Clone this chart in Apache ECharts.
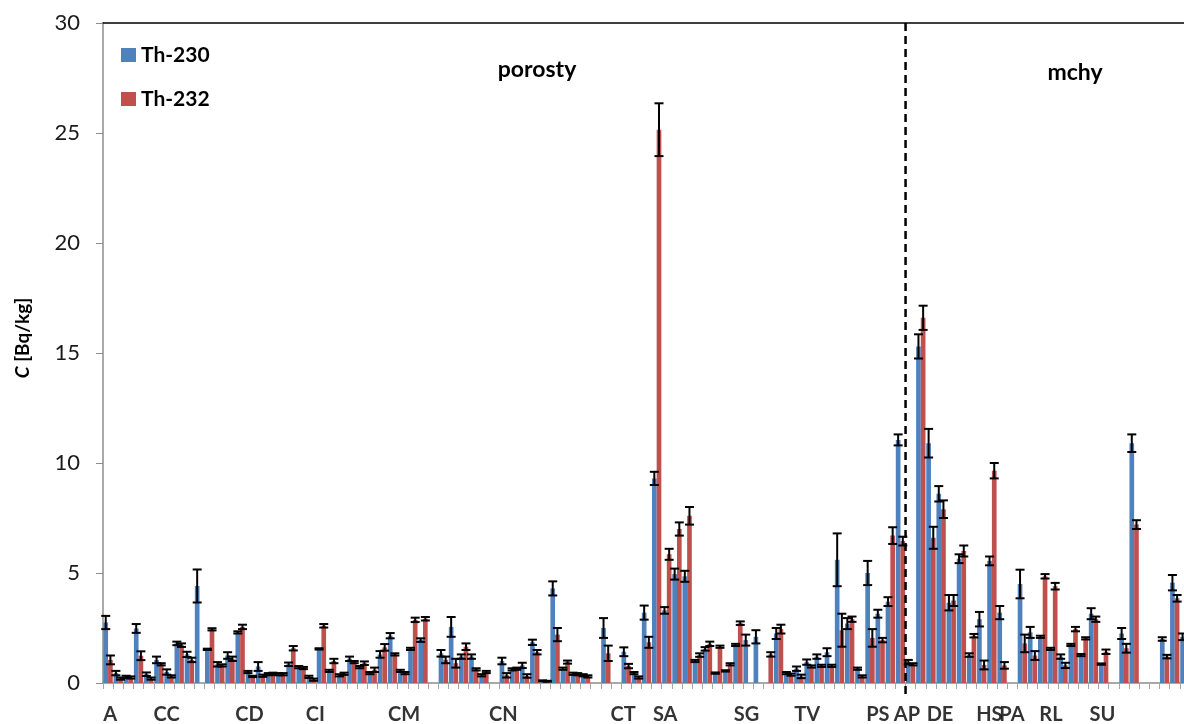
<!DOCTYPE html>
<html>
<head>
<meta charset="utf-8">
<script src="https://cdn.jsdelivr.net/npm/echarts@6/dist/echarts.min.js"></script>
<style>
  html, body { margin: 0; padding: 0; background: #fff; overflow: hidden; }
  #chart { width: 1184px; height: 724px; }
</style>
</head>
<body>
<div id="chart"></div>
<script>
// Sample positions along the axis (one per measured sample)
const samples = Array.from({ length: 107 }, (_, i) => String(i + 1));

// Activity concentrations, Bq/kg
const th230 = [2.75,0.45,0.28,2.48,0.4,1.05,0.5,1.8,1.3,4.41,
  1.53,0.85,1.25,2.3,0.5,0.75,0.4,0.4,0.85,0.72,
  0.28,1.55,0.55,0.35,1.1,0.72,0.45,1.3,2.15,0.55,
  1.55,1.95,null,1.35,2.55,1.2,1.2,0.35,null,1.0,
  0.62,0.8,1.85,0.1,4.3,0.65,0.42,0.35,null,2.5,
  null,1.42,0.45,3.2,9.3,3.3,4.95,4.85,1.0,1.55,
  0.45,0.55,1.73,1.95,2.1,null,2.25,0.45,0.65,0.95,
  1.2,1.4,5.6,2.7,0.65,5.0,3.15,3.7,11.05,0.95,
  15.3,10.9,8.6,3.65,5.65,1.27,2.9,5.55,3.2,null,
  4.5,2.3,2.1,1.55,1.2,1.73,1.27,3.15,0.86,null,
  2.25,10.9,null,null,2.0,4.56,2.1];

const th232 = [1.05,0.2,0.25,1.24,0.2,0.85,0.3,1.72,1.05,null,
  2.44,0.8,1.1,2.55,0.3,0.33,0.42,0.4,1.58,0.68,
  0.15,2.6,1.0,0.42,0.95,0.9,0.6,1.62,1.3,0.45,
  2.87,2.92,null,1.05,0.9,1.65,0.62,0.5,null,0.35,
  0.65,0.32,1.4,0.08,2.2,0.95,0.4,0.3,null,1.35,
  null,0.77,0.25,1.85,25.15,5.85,7.0,7.6,1.27,1.78,
  1.65,0.85,2.72,null,null,1.3,2.45,0.38,0.3,0.75,
  0.78,0.78,2.4,2.9,0.3,2.05,1.95,6.7,6.45,0.85,
  16.6,6.6,7.9,3.75,6.0,2.15,0.82,9.65,0.8,null,
  1.8,1.25,4.85,4.4,0.8,2.45,2.03,2.9,1.42,null,
  1.58,7.2,null,null,1.2,3.85,null];

// Measurement uncertainties (±)
const err230 = [0.3,0.1,0.05,0.2,0.08,0.15,0.12,0.08,0.12,0.75,
  0.03,0.1,0.15,0.05,0.05,0.2,0.05,0.05,0.08,0.05,
  0.05,0.03,0.05,0.05,0.1,0.05,0.05,0.15,0.12,0.05,
  0.05,0.08,null,0.15,0.45,0.1,0.1,0.05,null,0.15,
  0.05,0.12,0.12,0.02,0.32,0.05,0.05,0.05,null,0.45,
  null,0.2,0.05,0.32,0.3,0.15,0.25,0.25,0.05,0.08,
  0.03,0.03,0.05,0.25,0.3,null,0.25,0.05,0.1,0.12,
  0.1,0.18,1.2,0.25,0.05,0.55,0.18,0.2,0.25,0.1,
  0.55,0.65,0.35,0.35,0.2,0.08,0.33,0.2,0.3,null,
  0.65,0.25,0.05,0.05,0.1,0.05,0.05,0.25,0.03,null,
  0.25,0.4,null,null,0.08,0.35,0.15];

const err232 = [0.2,0.05,0.05,0.2,0.05,0.05,0.05,0.08,0.1,null,
  0.05,0.05,0.1,0.1,0.03,0.05,0.05,0.05,0.1,0.05,
  0.05,0.08,0.1,0.05,0.05,0.08,0.1,0.15,0.05,0.05,
  0.1,0.08,null,0.15,0.2,0.15,0.05,0.05,null,0.1,
  0.05,0.08,0.1,0.02,0.3,0.07,0.05,0.05,null,0.35,
  null,0.1,0.05,0.25,1.2,0.25,0.3,0.4,0.08,0.1,
  0.05,0.05,0.08,null,null,0.1,0.2,0.05,0.08,0.05,
  0.05,0.05,0.75,0.12,0.05,0.4,0.1,0.38,0.2,0.05,
  0.55,0.5,0.4,0.25,0.25,0.08,0.2,0.35,0.15,null,
  0.4,0.2,0.1,0.15,0.12,0.1,0.05,0.12,0.1,null,
  0.2,0.2,null,null,0.08,0.15,null];

// Site groups and where their labels sit (in sample units)
const groupNames   = ['A','CC','CD','CI','CM','CN','CT','SA','SG','TV','PS','AP','DE','HS','PA','RL','SU'];
const groupCenters = [0.72,6.27,14.42,20.91,29.64,39.4,51.2,55.34,63.34,69.33,76.28,79.14,82.39,87.25,89.47,93.31,98.39];

// Boundary between lichen ("porosty") and moss ("mchy") samples
const splitAt = 79;

const yTicks = { min: 0, max: 30, interval: 5 };

const FONT = 'Lato, "Open Sans", sans-serif';
const BLUE = '#4F81BD';
const RED = '#C0504D';
const CAT_GAP = 0.08;

function errorBars(side) {
  return function (params, api) {
    const x = api.value(0), v = api.value(1), e = api.value(2);
    if (isNaN(v) || isNaN(e)) return;
    const band = api.size([1, 0])[0];
    const bw = band * (1 - CAT_GAP) / 2;
    const cx = api.coord([x, 0])[0] + side * bw / 2;
    const yTop = api.coord([x, v + e])[1];
    const yBot = api.coord([x, v - e])[1];
    const hw = 4.5;
    const st = { stroke: '#000', lineWidth: 2 };
    return {
      type: 'group',
      children: [
        { type: 'line', shape: { x1: cx, y1: yTop, x2: cx, y2: yBot }, style: st },
        { type: 'line', shape: { x1: cx - hw, y1: yTop, x2: cx + hw, y2: yTop }, style: st },
        { type: 'line', shape: { x1: cx - hw, y1: yBot, x2: cx + hw, y2: yBot }, style: st }
      ]
    };
  };
}

const errData230 = th230.map((v, i) => [i, v, err230[i]]).filter(d => d[1] != null && d[2] != null);
const errData232 = th232.map((v, i) => [i, v, err232[i]]).filter(d => d[1] != null && d[2] != null);

const chart = echarts.init(document.getElementById('chart'), null, { renderer: 'canvas' });

const titleStyle = { fontFamily: FONT, fontWeight: 'bold', fontSize: 19, fill: '#000' };

chart.setOption({
  animation: false,
  backgroundColor: '#fff',
  textStyle: { fontFamily: FONT },
  // the plot runs on past the right edge of the canvas
  grid: {
    left: 103, top: 23, height: 660, width: 1087,
    containLabel: false, outerBoundsMode: 'none'
  },
  legend: {
    data: ['Th-230', 'Th-232'],
    orient: 'vertical',
    left: 116,
    top: 38,
    itemWidth: 15,
    itemHeight: 14,
    itemGap: 20,
    icon: 'rect',
    selectedMode: false,
    textStyle: { fontFamily: FONT, fontWeight: 'bold', fontSize: 21, color: '#000', lineHeight: 24 }
  },
  xAxis: [
    {
      type: 'category',
      data: samples,
      boundaryGap: true,
      axisLine: { lineStyle: { color: '#8c8c8c', width: 1.5 } },
      axisTick: { show: true, interval: 0, length: 6, lineStyle: { color: '#a6a6a6', width: 1 } },
      axisLabel: { show: false }
    },
    {
      type: 'value',
      position: 'top',
      min: 0,
      max: samples.length,
      axisLine: { show: true, onZero: false, lineStyle: { color: '#000', width: 1.5 } },
      axisTick: { show: false },
      axisLabel: { show: false },
      splitLine: { show: false }
    }
  ],
  yAxis: {
    type: 'value',
    min: yTicks.min,
    max: yTicks.max,
    interval: yTicks.interval,
    axisLine: { show: true, lineStyle: { color: '#8c8c8c', width: 1.5 } },
    axisTick: { show: true, length: 7, lineStyle: { color: '#8c8c8c' } },
    axisLabel: { fontFamily: FONT, fontSize: 22, color: '#1a1a1a', margin: 23 },
    splitLine: { show: false }
  },
  series: [
    {
      name: 'Th-230', type: 'bar', data: th230,
      itemStyle: { color: BLUE },
      barGap: '0%', barCategoryGap: (CAT_GAP * 100) + '%'
    },
    {
      name: 'Th-232', type: 'bar', data: th232,
      itemStyle: { color: RED },
      barGap: '0%', barCategoryGap: (CAT_GAP * 100) + '%'
    },
    {
      name: 'err230', type: 'custom', renderItem: errorBars(-1),
      data: errData230, encode: { x: 0, y: 1 }, z: 5, clip: false
    },
    {
      name: 'err232', type: 'custom', renderItem: errorBars(1),
      data: errData232, encode: { x: 0, y: 1 }, z: 5, clip: false
    },
    {
      name: 'groups', type: 'scatter', xAxisIndex: 1, yAxisIndex: 0,
      symbolSize: 0, clip: false, silent: true,
      data: groupCenters.map((c, i) => ({ value: [c, 0], name: groupNames[i] })),
      label: {
        show: true, position: 'bottom', distance: 22,
        formatter: p => p.name,
        fontFamily: FONT, fontWeight: 'bold', fontSize: 20, color: '#000'
      }
    }
  ],
  graphic: [
    {
      type: 'text', x: 537, y: 70,
      style: { text: 'porosty', font: 'bold 23px ' + FONT, fill: '#000', align: 'center', verticalAlign: 'middle' }
    },
    {
      type: 'text', x: 1075, y: 73,
      style: { text: 'mchy', font: 'bold 23px ' + FONT, fill: '#000', align: 'center', verticalAlign: 'middle' }
    },
    {
      type: 'text', x: 23, y: 338, rotation: Math.PI / 2,
      style: {
        text: '{i|C}{b| [Bq/kg]}',
        align: 'center', verticalAlign: 'middle',
        rich: {
          i: Object.assign({ fontStyle: 'italic' }, titleStyle),
          b: titleStyle
        }
      }
    }
  ]
});

// Dashed separator between the two sample types, placed through the axis scales
const sx = chart.convertToPixel({ xAxisIndex: 1 }, splitAt);
const syTop = chart.convertToPixel({ yAxisIndex: 0 }, yTicks.max);
const syBot = chart.convertToPixel({ yAxisIndex: 0 }, yTicks.min) + 14;
chart.setOption({
  graphic: [{
    id: 'split', type: 'line', z: 10, silent: true,
    shape: { x1: sx, y1: syTop, x2: sx, y2: syBot },
    style: { stroke: '#000', lineWidth: 2.5, lineDash: [8, 5] }
  }]
});
</script>
</body>
</html>
